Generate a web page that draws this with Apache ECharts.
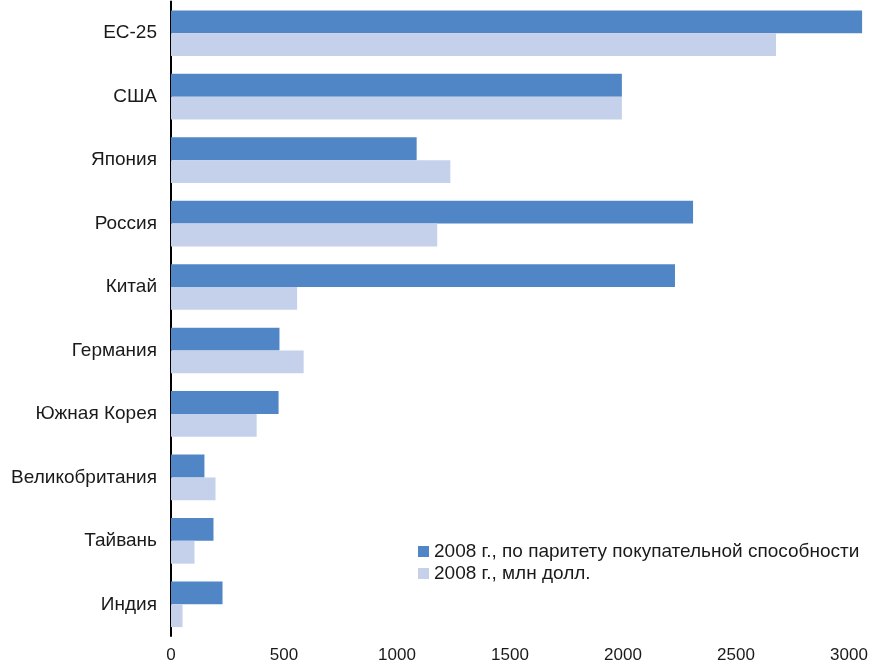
<!DOCTYPE html>
<html>
<head>
<meta charset="utf-8">
<script src="https://cdn.jsdelivr.net/npm/echarts@6/dist/echarts.min.js"></script>
<style>
  html, body { margin: 0; padding: 0; background: #ffffff; }
  #chart { width: 876px; height: 664px; }
</style>
</head>
<body>
<div id="chart"></div>
<script>
// Countries, top to bottom
const categories = ['ЕС-25', 'США', 'Япония', 'Россия', 'Китай', 'Германия', 'Южная Корея', 'Великобритания', 'Тайвань', 'Индия'];

// 2008, purchasing power parity
const pppValues = [3058, 1995, 1087, 2310, 2230, 480, 476, 148, 188, 228];
// 2008, million dollars
const usdValues = [2677, 1995, 1236, 1178, 558, 587, 379, 197, 104, 51];

const seriesNames = ['2008 г., по паритету покупательной способности', '2008 г., млн долл.'];
const xTicks = { min: 0, max: 3000, interval: 500 };

const fontFamily = '"Liberation Sans", Arial, Helvetica, sans-serif';
const textColor = '#1a1a1a';

const chart = echarts.init(document.getElementById('chart'), null, { renderer: 'canvas' });

chart.setOption({
  animation: false,
  backgroundColor: '#ffffff',
  textStyle: { fontFamily: fontFamily, color: textColor },
  grid: { left: 171, right: 27, top: 1.5, bottom: 22.5, containLabel: false },
  legend: {
    orient: 'vertical',
    left: 418,
    top: 542,
    padding: 0,
    itemWidth: 11,
    itemHeight: 11,
    itemGap: 3,
    icon: 'rect',
    textStyle: { fontSize: 19, color: textColor, fontFamily: fontFamily },
    data: seriesNames
  },
  xAxis: {
    type: 'value',
    min: xTicks.min,
    max: xTicks.max,
    interval: xTicks.interval,
    axisLine: { show: false },
    axisTick: { show: false },
    splitLine: { show: false },
    axisLabel: {
      fontSize: 17,
      color: textColor,
      margin: 11,
      fontFamily: fontFamily,
      formatter: function (v) { return String(v); }
    }
  },
  yAxis: {
    type: 'category',
    inverse: true,
    data: categories,
    axisTick: { show: false },
    axisLine: { show: true, lineStyle: { color: '#000000', width: 2 } },
    axisLabel: { fontSize: 19, color: textColor, margin: 14, fontFamily: fontFamily }
  },
  series: [
    {
      name: seriesNames[0],
      type: 'bar',
      data: pppValues,
      clip: false,
      barGap: '0%',
      barCategoryGap: '28%',
      itemStyle: { color: '#5086c6' },
      z: 1
    },
    {
      name: seriesNames[1],
      type: 'bar',
      data: usdValues,
      clip: false,
      barGap: '0%',
      barCategoryGap: '28%',
      itemStyle: { color: '#c5d0eb' },
      z: 1
    }
  ]
});
</script>
</body>
</html>
